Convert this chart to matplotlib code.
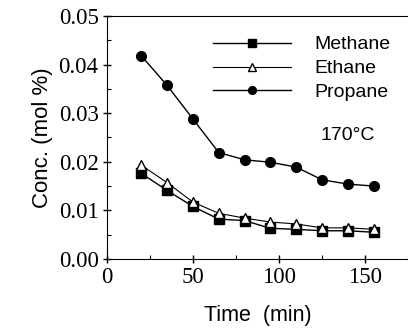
import numpy as np
import matplotlib
matplotlib.use("Agg")
import matplotlib.pyplot as plt
from matplotlib.ticker import MultipleLocator

time_min = [20, 35, 50, 65, 80, 95, 110, 125, 140, 155]
methane = [0.0176, 0.0141, 0.0108, 0.0082, 0.0079, 0.0063, 0.0061, 0.0058, 0.0058, 0.0055]
ethane = [0.0193, 0.0157, 0.0117, 0.0094, 0.0084, 0.0076, 0.0072, 0.0064, 0.0064, 0.0061]
propane = [0.0418, 0.0357, 0.0288, 0.0219, 0.0204, 0.0199, 0.0189, 0.0163, 0.0154, 0.0150]

x_ticks = [0, 50, 100, 150]
y_ticks = [0.00, 0.01, 0.02, 0.03, 0.04, 0.05]

fig = plt.figure(figsize=(4.08, 3.32), dpi=100)
ax = fig.add_axes([0.262, 0.22, 0.738, 0.732])

ax.plot(time_min, methane, '-s', color='black', lw=1.0, ms=6.5,
        mfc='black', label='Methane')
ax.plot(time_min, ethane, '-^', color='black', lw=0.8, ms=7.5,
        mfc='white', mew=1.0, label='Ethane')
ax.plot(time_min, propane, '-o', color='black', lw=1.0, ms=7,
        mfc='black', label='Propane')

ax.set_xlim(0, 175)
ax.set_ylim(0, 0.05)
serif = {'family': 'Liberation Serif', 'size': 16.5}
ax.set_xticks(x_ticks)
ax.set_xticklabels([str(t) for t in x_ticks], fontdict=serif)
ax.set_yticks(y_ticks)
ax.set_yticklabels(['%.2f' % t for t in y_ticks], fontdict=serif)
ax.xaxis.set_minor_locator(MultipleLocator(25))
ax.yaxis.set_minor_locator(MultipleLocator(0.005))
ax.spines['right'].set_visible(False)
ax.tick_params(which='major', direction='inout', length=6, width=1, pad=3)
ax.tick_params(which='minor', direction='in', length=3, width=0.8)

ax.set_xlabel('Time  (min)', family='Liberation Sans', fontsize=15.5, labelpad=12)
ax.set_ylabel('Conc. (mol %)', family='Liberation Sans', fontsize=16, labelpad=4)

leg = ax.legend(loc='upper right', frameon=False, handlelength=4.0,
                prop={'family': 'Liberation Sans', 'size': 14},
                bbox_to_anchor=(1.0, 0.99), labelspacing=0.32, handletextpad=1.2,
                markerscale=0.8)

ax.text(0.80, 0.51, '170°C', transform=ax.transAxes, family='Liberation Sans',
        fontsize=14, ha='center', va='center')

fig.savefig('out.png', dpi=100)
